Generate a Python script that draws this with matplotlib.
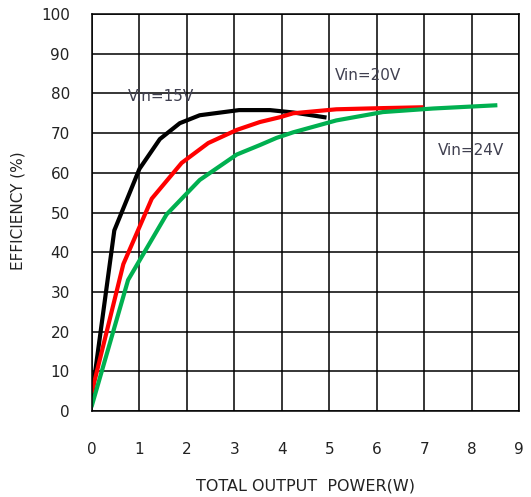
import matplotlib
matplotlib.use('Agg')
import matplotlib.pyplot as plt

# curves
x15 = [0.0, 0.47, 1.0, 1.43, 1.85, 2.27, 3.1, 3.75, 4.24, 4.9]
y15 = [4.0, 45.5, 61.0, 68.5, 72.5, 74.5, 75.8, 75.8, 75.2, 74.0]

x20 = [0.0, 0.66, 1.26, 1.89, 2.45, 3.05, 3.54, 3.96, 4.24, 5.15, 6.13, 6.94]
y20 = [5.0, 37.0, 53.5, 62.5, 67.5, 70.8, 72.8, 74.0, 75.0, 76.0, 76.3, 76.5]

x24 = [0.0, 0.76, 1.57, 2.27, 3.05, 3.54, 3.89, 4.24, 5.15, 6.13, 7.19, 8.5]
y24 = [1.5, 33.0, 49.5, 58.2, 64.6, 67.0, 68.8, 70.2, 73.2, 75.3, 76.2, 77.0]

labels = ['Vin=15V', 'Vin=20V', 'Vin=24V']
label_pos = [(0.76, 79.3), (5.12, 84.6), (7.28, 65.7)]

fig = plt.figure(figsize=(5.31, 4.97), dpi=100)
ax = fig.add_axes([0.1733, 0.173, 0.8041, 0.7988])

ax.plot(x15, y15, color='black', lw=3, solid_joinstyle='round')
ax.plot(x20, y20, color='#ff0000', lw=3, solid_joinstyle='round')
ax.plot(x24, y24, color='#00b050', lw=3, solid_joinstyle='round')

for t, (tx, ty) in zip(labels, label_pos):
    ax.text(tx, ty, t, fontsize=11, color='#404050', va='center', ha='left')

ax.set_xlim(0, 9)
ax.set_ylim(0, 100)
ax.set_xticks(range(0, 10))
ax.set_yticks(range(0, 101, 10))
ax.grid(True, color='black', lw=1.1)
ax.set_axisbelow(True)
for s in ax.spines.values():
    s.set_color('black')
    s.set_linewidth(1.1)
ax.tick_params(length=0, labelsize=11, colors='#222222')
ax.tick_params(axis='x', pad=22)
ax.tick_params(axis='y', pad=16)

fig.text(305/531, 1 - 486/497, 'TOTAL OUTPUT  POWER(W)', fontsize=11.5,
         color='#222222', ha='center', va='center')
fig.text(18/531, 1 - 211/497, 'EFFICIENCY (%)', fontsize=11, rotation=90,
         color='#222222', ha='center', va='center')

fig.savefig('out.png', dpi=100)
